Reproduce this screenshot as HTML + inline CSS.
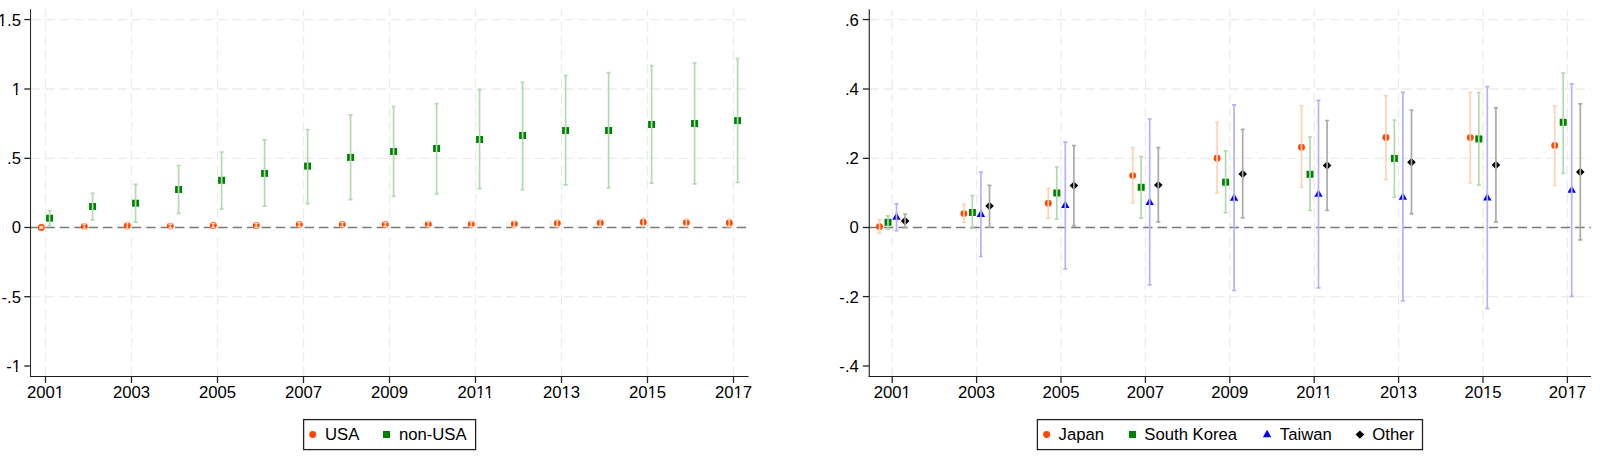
<!DOCTYPE html>
<html><head><meta charset="utf-8"><title>chart</title>
<style>
html,body{margin:0;padding:0;background:#fff;width:1600px;height:459px;overflow:hidden;}
svg{display:block;}
text{font-family:"Liberation Sans", sans-serif;font-size:16.7px;fill:#000;}
</style></head>
<body>
<svg width="1600" height="459" viewBox="0 0 1600 459">
<rect width="1600" height="459" fill="#fff"/>
<line x1="31.0" y1="19.55" x2="748.5" y2="19.55" stroke="#ececec" stroke-width="1.3" stroke-dasharray="9.4 5.0" stroke-dashoffset="0"/>
<line x1="31.0" y1="89.0" x2="748.5" y2="89.0" stroke="#ececec" stroke-width="1.3" stroke-dasharray="9.4 5.0" stroke-dashoffset="0"/>
<line x1="31.0" y1="158.35" x2="748.5" y2="158.35" stroke="#ececec" stroke-width="1.3" stroke-dasharray="9.4 5.0" stroke-dashoffset="0"/>
<line x1="31.0" y1="296.7" x2="748.5" y2="296.7" stroke="#ececec" stroke-width="1.3" stroke-dasharray="9.4 5.0" stroke-dashoffset="0"/>
<line x1="45.5" y1="376.5" x2="45.5" y2="9.2" stroke="#ececec" stroke-width="1.3" stroke-dasharray="9.4 5.0" stroke-dashoffset="0"/>
<line x1="131.5" y1="376.5" x2="131.5" y2="9.2" stroke="#ececec" stroke-width="1.3" stroke-dasharray="9.4 5.0" stroke-dashoffset="0"/>
<line x1="217.5" y1="376.5" x2="217.5" y2="9.2" stroke="#ececec" stroke-width="1.3" stroke-dasharray="9.4 5.0" stroke-dashoffset="0"/>
<line x1="303.5" y1="376.5" x2="303.5" y2="9.2" stroke="#ececec" stroke-width="1.3" stroke-dasharray="9.4 5.0" stroke-dashoffset="0"/>
<line x1="389.5" y1="376.5" x2="389.5" y2="9.2" stroke="#ececec" stroke-width="1.3" stroke-dasharray="9.4 5.0" stroke-dashoffset="0"/>
<line x1="475.5" y1="376.5" x2="475.5" y2="9.2" stroke="#ececec" stroke-width="1.3" stroke-dasharray="9.4 5.0" stroke-dashoffset="0"/>
<line x1="561.5" y1="376.5" x2="561.5" y2="9.2" stroke="#ececec" stroke-width="1.3" stroke-dasharray="9.4 5.0" stroke-dashoffset="0"/>
<line x1="647.5" y1="376.5" x2="647.5" y2="9.2" stroke="#ececec" stroke-width="1.3" stroke-dasharray="9.4 5.0" stroke-dashoffset="0"/>
<line x1="733.5" y1="376.5" x2="733.5" y2="9.2" stroke="#ececec" stroke-width="1.3" stroke-dasharray="9.4 5.0" stroke-dashoffset="0"/>
<line x1="869.55" y1="19.55" x2="1591.0" y2="19.55" stroke="#ececec" stroke-width="1.3" stroke-dasharray="9.4 5.0" stroke-dashoffset="0"/>
<line x1="869.55" y1="89.0" x2="1591.0" y2="89.0" stroke="#ececec" stroke-width="1.3" stroke-dasharray="9.4 5.0" stroke-dashoffset="0"/>
<line x1="869.55" y1="158.35" x2="1591.0" y2="158.35" stroke="#ececec" stroke-width="1.3" stroke-dasharray="9.4 5.0" stroke-dashoffset="0"/>
<line x1="869.55" y1="296.6" x2="1591.0" y2="296.6" stroke="#ececec" stroke-width="1.3" stroke-dasharray="9.4 5.0" stroke-dashoffset="0"/>
<line x1="892.2" y1="376.5" x2="892.2" y2="9.2" stroke="#ececec" stroke-width="1.3" stroke-dasharray="9.4 5.0" stroke-dashoffset="0"/>
<line x1="976.6" y1="376.5" x2="976.6" y2="9.2" stroke="#ececec" stroke-width="1.3" stroke-dasharray="9.4 5.0" stroke-dashoffset="0"/>
<line x1="1061.0" y1="376.5" x2="1061.0" y2="9.2" stroke="#ececec" stroke-width="1.3" stroke-dasharray="9.4 5.0" stroke-dashoffset="0"/>
<line x1="1145.4" y1="376.5" x2="1145.4" y2="9.2" stroke="#ececec" stroke-width="1.3" stroke-dasharray="9.4 5.0" stroke-dashoffset="0"/>
<line x1="1229.8000000000002" y1="376.5" x2="1229.8000000000002" y2="9.2" stroke="#ececec" stroke-width="1.3" stroke-dasharray="9.4 5.0" stroke-dashoffset="0"/>
<line x1="1314.2" y1="376.5" x2="1314.2" y2="9.2" stroke="#ececec" stroke-width="1.3" stroke-dasharray="9.4 5.0" stroke-dashoffset="0"/>
<line x1="1398.6000000000001" y1="376.5" x2="1398.6000000000001" y2="9.2" stroke="#ececec" stroke-width="1.3" stroke-dasharray="9.4 5.0" stroke-dashoffset="0"/>
<line x1="1483.0" y1="376.5" x2="1483.0" y2="9.2" stroke="#ececec" stroke-width="1.3" stroke-dasharray="9.4 5.0" stroke-dashoffset="0"/>
<line x1="1567.4" y1="376.5" x2="1567.4" y2="9.2" stroke="#ececec" stroke-width="1.3" stroke-dasharray="9.4 5.0" stroke-dashoffset="0"/>
<line x1="31.0" y1="227.5" x2="748.5" y2="227.5" stroke="#7a7a7a" stroke-width="1.4" stroke-dasharray="9.4 5.0" stroke-dashoffset="0"/>
<line x1="869.55" y1="227.5" x2="1591.0" y2="227.5" stroke="#7a7a7a" stroke-width="1.4" stroke-dasharray="9.4 5.0" stroke-dashoffset="0"/>
<line x1="30.55" y1="9.2" x2="30.55" y2="377.0" stroke="#222" stroke-width="1.0"/>
<line x1="30.0" y1="376.5" x2="748.5" y2="376.5" stroke="#1c1c1c" stroke-width="1.05"/>
<line x1="869.25" y1="9.2" x2="869.25" y2="377.0" stroke="#111" stroke-width="1.05"/>
<line x1="868.7" y1="376.5" x2="1591.0" y2="376.5" stroke="#1c1c1c" stroke-width="1.05"/>
<line x1="24.3" y1="19.55" x2="30.5" y2="19.55" stroke="#222222" stroke-width="1.3"/>
<text x="21.0" y="26.15" text-anchor="end">1.5</text>
<line x1="24.3" y1="89.0" x2="30.5" y2="89.0" stroke="#222222" stroke-width="1.3"/>
<text x="21.0" y="94.9" text-anchor="end">1</text>
<line x1="24.3" y1="158.35" x2="30.5" y2="158.35" stroke="#222222" stroke-width="1.3"/>
<text x="21.0" y="164.25" text-anchor="end">.5</text>
<line x1="24.3" y1="227.5" x2="30.5" y2="227.5" stroke="#222222" stroke-width="1.3"/>
<text x="21.0" y="233.4" text-anchor="end">0</text>
<line x1="24.3" y1="296.7" x2="30.5" y2="296.7" stroke="#222222" stroke-width="1.3"/>
<text x="21.0" y="302.59999999999997" text-anchor="end">-.5</text>
<line x1="24.3" y1="366.0" x2="30.5" y2="366.0" stroke="#222222" stroke-width="1.3"/>
<text x="21.0" y="371.9" text-anchor="end">-1</text>
<line x1="862.8499999999999" y1="19.55" x2="869.05" y2="19.55" stroke="#222222" stroke-width="1.3"/>
<text x="858.8499999999999" y="26.15" text-anchor="end">.6</text>
<line x1="862.8499999999999" y1="89.0" x2="869.05" y2="89.0" stroke="#222222" stroke-width="1.3"/>
<text x="858.8499999999999" y="94.9" text-anchor="end">.4</text>
<line x1="862.8499999999999" y1="158.35" x2="869.05" y2="158.35" stroke="#222222" stroke-width="1.3"/>
<text x="858.8499999999999" y="164.25" text-anchor="end">.2</text>
<line x1="862.8499999999999" y1="227.5" x2="869.05" y2="227.5" stroke="#222222" stroke-width="1.3"/>
<text x="858.8499999999999" y="233.4" text-anchor="end">0</text>
<line x1="862.8499999999999" y1="296.6" x2="869.05" y2="296.6" stroke="#222222" stroke-width="1.3"/>
<text x="858.8499999999999" y="302.5" text-anchor="end">-.2</text>
<line x1="862.8499999999999" y1="366.0" x2="869.05" y2="366.0" stroke="#222222" stroke-width="1.3"/>
<text x="858.8499999999999" y="371.9" text-anchor="end">-.4</text>
<line x1="45.5" y1="376.5" x2="45.5" y2="383.0" stroke="#222222" stroke-width="1.3"/>
<text x="45.5" y="397.8" text-anchor="middle">2001</text>
<line x1="892.2" y1="376.5" x2="892.2" y2="383.0" stroke="#222222" stroke-width="1.3"/>
<text x="892.2" y="397.8" text-anchor="middle">2001</text>
<line x1="131.5" y1="376.5" x2="131.5" y2="383.0" stroke="#222222" stroke-width="1.3"/>
<text x="131.5" y="397.8" text-anchor="middle">2003</text>
<line x1="976.6" y1="376.5" x2="976.6" y2="383.0" stroke="#222222" stroke-width="1.3"/>
<text x="976.6" y="397.8" text-anchor="middle">2003</text>
<line x1="217.5" y1="376.5" x2="217.5" y2="383.0" stroke="#222222" stroke-width="1.3"/>
<text x="217.5" y="397.8" text-anchor="middle">2005</text>
<line x1="1061.0" y1="376.5" x2="1061.0" y2="383.0" stroke="#222222" stroke-width="1.3"/>
<text x="1061.0" y="397.8" text-anchor="middle">2005</text>
<line x1="303.5" y1="376.5" x2="303.5" y2="383.0" stroke="#222222" stroke-width="1.3"/>
<text x="303.5" y="397.8" text-anchor="middle">2007</text>
<line x1="1145.4" y1="376.5" x2="1145.4" y2="383.0" stroke="#222222" stroke-width="1.3"/>
<text x="1145.4" y="397.8" text-anchor="middle">2007</text>
<line x1="389.5" y1="376.5" x2="389.5" y2="383.0" stroke="#222222" stroke-width="1.3"/>
<text x="389.5" y="397.8" text-anchor="middle">2009</text>
<line x1="1229.8000000000002" y1="376.5" x2="1229.8000000000002" y2="383.0" stroke="#222222" stroke-width="1.3"/>
<text x="1229.8000000000002" y="397.8" text-anchor="middle">2009</text>
<line x1="475.5" y1="376.5" x2="475.5" y2="383.0" stroke="#222222" stroke-width="1.3"/>
<text x="475.5" y="397.8" text-anchor="middle">2011</text>
<line x1="1314.2" y1="376.5" x2="1314.2" y2="383.0" stroke="#222222" stroke-width="1.3"/>
<text x="1314.2" y="397.8" text-anchor="middle">2011</text>
<line x1="561.5" y1="376.5" x2="561.5" y2="383.0" stroke="#222222" stroke-width="1.3"/>
<text x="561.5" y="397.8" text-anchor="middle">2013</text>
<line x1="1398.6000000000001" y1="376.5" x2="1398.6000000000001" y2="383.0" stroke="#222222" stroke-width="1.3"/>
<text x="1398.6000000000001" y="397.8" text-anchor="middle">2013</text>
<line x1="647.5" y1="376.5" x2="647.5" y2="383.0" stroke="#222222" stroke-width="1.3"/>
<text x="647.5" y="397.8" text-anchor="middle">2015</text>
<line x1="1483.0" y1="376.5" x2="1483.0" y2="383.0" stroke="#222222" stroke-width="1.3"/>
<text x="1483.0" y="397.8" text-anchor="middle">2015</text>
<line x1="733.5" y1="376.5" x2="733.5" y2="383.0" stroke="#222222" stroke-width="1.3"/>
<text x="733.5" y="397.8" text-anchor="middle">2017</text>
<line x1="1567.4" y1="376.5" x2="1567.4" y2="383.0" stroke="#222222" stroke-width="1.3"/>
<text x="1567.4" y="397.8" text-anchor="middle">2017</text>
<circle cx="41.30" cy="227.40" r="3.45" fill="#ff4500"/>
<rect x="46.10" y="214.70" width="7" height="7" fill="#008000"/>
<circle cx="84.30" cy="226.40" r="3.45" fill="#ff4500"/>
<rect x="89.10" y="203.00" width="7" height="7" fill="#008000"/>
<circle cx="127.30" cy="225.70" r="3.45" fill="#ff4500"/>
<rect x="132.10" y="199.70" width="7" height="7" fill="#008000"/>
<circle cx="170.30" cy="226.10" r="3.45" fill="#ff4500"/>
<rect x="175.10" y="186.00" width="7" height="7" fill="#008000"/>
<circle cx="213.30" cy="225.40" r="3.45" fill="#ff4500"/>
<rect x="218.10" y="176.80" width="7" height="7" fill="#008000"/>
<circle cx="256.30" cy="225.40" r="3.45" fill="#ff4500"/>
<rect x="261.10" y="169.90" width="7" height="7" fill="#008000"/>
<circle cx="299.30" cy="224.50" r="3.45" fill="#ff4500"/>
<rect x="304.10" y="162.60" width="7" height="7" fill="#008000"/>
<circle cx="342.30" cy="224.50" r="3.45" fill="#ff4500"/>
<rect x="347.10" y="153.90" width="7" height="7" fill="#008000"/>
<circle cx="385.30" cy="224.50" r="3.45" fill="#ff4500"/>
<rect x="390.10" y="148.00" width="7" height="7" fill="#008000"/>
<circle cx="428.30" cy="224.25" r="3.45" fill="#ff4500"/>
<rect x="433.10" y="145.00" width="7" height="7" fill="#008000"/>
<circle cx="471.30" cy="224.25" r="3.45" fill="#ff4500"/>
<rect x="476.10" y="136.00" width="7" height="7" fill="#008000"/>
<circle cx="514.30" cy="224.00" r="3.45" fill="#ff4500"/>
<rect x="519.10" y="132.00" width="7" height="7" fill="#008000"/>
<circle cx="557.30" cy="223.30" r="3.45" fill="#ff4500"/>
<rect x="562.10" y="127.00" width="7" height="7" fill="#008000"/>
<circle cx="600.30" cy="222.90" r="3.45" fill="#ff4500"/>
<rect x="605.10" y="127.00" width="7" height="7" fill="#008000"/>
<circle cx="643.30" cy="222.20" r="3.45" fill="#ff4500"/>
<rect x="648.10" y="121.00" width="7" height="7" fill="#008000"/>
<circle cx="686.30" cy="222.60" r="3.45" fill="#ff4500"/>
<rect x="691.10" y="120.00" width="7" height="7" fill="#008000"/>
<circle cx="729.30" cy="222.90" r="3.45" fill="#ff4500"/>
<rect x="734.10" y="117.10" width="7" height="7" fill="#008000"/>
<path d="M41.30 226.70V228.10M39.30 226.70H43.30M39.30 228.10H43.30" stroke="#ffd3b2" stroke-width="1.7" fill="none"/>
<path d="M49.60 210.90V225.50M47.60 210.90H51.60M47.60 225.50H51.60" stroke="#b2d9b2" stroke-width="1.7" fill="none"/>
<path d="M84.30 224.00V228.80M82.30 224.00H86.30M82.30 228.80H86.30" stroke="#ffd3b2" stroke-width="1.7" fill="none"/>
<path d="M92.60 193.40V219.90M90.60 193.40H94.60M90.60 219.90H94.60" stroke="#b2d9b2" stroke-width="1.7" fill="none"/>
<path d="M127.30 222.30V229.10M125.30 222.30H129.30M125.30 229.10H129.30" stroke="#ffd3b2" stroke-width="1.7" fill="none"/>
<path d="M135.60 184.40V222.10M133.60 184.40H137.60M133.60 222.10H137.60" stroke="#b2d9b2" stroke-width="1.7" fill="none"/>
<path d="M170.30 224.10V228.10M168.30 224.10H172.30M168.30 228.10H172.30" stroke="#ffd3b2" stroke-width="1.7" fill="none"/>
<path d="M178.60 165.50V213.40M176.60 165.50H180.60M176.60 213.40H180.60" stroke="#b2d9b2" stroke-width="1.7" fill="none"/>
<path d="M213.30 223.50V227.30M211.30 223.50H215.30M211.30 227.30H215.30" stroke="#ffd3b2" stroke-width="1.7" fill="none"/>
<path d="M221.60 152.10V209.10M219.60 152.10H223.60M219.60 209.10H223.60" stroke="#b2d9b2" stroke-width="1.7" fill="none"/>
<path d="M256.30 223.40V227.40M254.30 223.40H258.30M254.30 227.40H258.30" stroke="#ffd3b2" stroke-width="1.7" fill="none"/>
<path d="M264.60 139.90V206.10M262.60 139.90H266.60M262.60 206.10H266.60" stroke="#b2d9b2" stroke-width="1.7" fill="none"/>
<path d="M299.30 222.30V226.70M297.30 222.30H301.30M297.30 226.70H301.30" stroke="#ffd3b2" stroke-width="1.7" fill="none"/>
<path d="M307.60 129.50V203.70M305.60 129.50H309.60M305.60 203.70H309.60" stroke="#b2d9b2" stroke-width="1.7" fill="none"/>
<path d="M342.30 222.30V226.70M340.30 222.30H344.30M340.30 226.70H344.30" stroke="#ffd3b2" stroke-width="1.7" fill="none"/>
<path d="M350.60 114.90V199.60M348.60 114.90H352.60M348.60 199.60H352.60" stroke="#b2d9b2" stroke-width="1.7" fill="none"/>
<path d="M385.30 222.30V226.70M383.30 222.30H387.30M383.30 226.70H387.30" stroke="#ffd3b2" stroke-width="1.7" fill="none"/>
<path d="M393.60 106.50V196.30M391.60 106.50H395.60M391.60 196.30H395.60" stroke="#b2d9b2" stroke-width="1.7" fill="none"/>
<path d="M428.30 221.75V226.75M426.30 221.75H430.30M426.30 226.75H430.30" stroke="#ffd3b2" stroke-width="1.7" fill="none"/>
<path d="M436.60 103.60V194.00M434.60 103.60H438.60M434.60 194.00H438.60" stroke="#b2d9b2" stroke-width="1.7" fill="none"/>
<path d="M471.30 221.65V226.85M469.30 221.65H473.30M469.30 226.85H473.30" stroke="#ffd3b2" stroke-width="1.7" fill="none"/>
<path d="M479.60 89.60V188.70M477.60 89.60H481.60M477.60 188.70H481.60" stroke="#b2d9b2" stroke-width="1.7" fill="none"/>
<path d="M514.30 220.90V227.10M512.30 220.90H516.30M512.30 227.10H516.30" stroke="#ffd3b2" stroke-width="1.7" fill="none"/>
<path d="M522.60 82.00V190.00M520.60 82.00H524.60M520.60 190.00H524.60" stroke="#b2d9b2" stroke-width="1.7" fill="none"/>
<path d="M557.30 219.90V226.70M555.30 219.90H559.30M555.30 226.70H559.30" stroke="#ffd3b2" stroke-width="1.7" fill="none"/>
<path d="M565.60 75.50V184.80M563.60 75.50H567.60M563.60 184.80H567.60" stroke="#b2d9b2" stroke-width="1.7" fill="none"/>
<path d="M600.30 219.40V226.40M598.30 219.40H602.30M598.30 226.40H602.30" stroke="#ffd3b2" stroke-width="1.7" fill="none"/>
<path d="M608.60 72.70V188.00M606.60 72.70H610.60M606.60 188.00H610.60" stroke="#b2d9b2" stroke-width="1.7" fill="none"/>
<path d="M643.30 218.00V226.40M641.30 218.00H645.30M641.30 226.40H645.30" stroke="#ffd3b2" stroke-width="1.7" fill="none"/>
<path d="M651.60 65.70V183.20M649.60 65.70H653.60M649.60 183.20H653.60" stroke="#b2d9b2" stroke-width="1.7" fill="none"/>
<path d="M686.30 218.80V226.40M684.30 218.80H688.30M684.30 226.40H688.30" stroke="#ffd3b2" stroke-width="1.7" fill="none"/>
<path d="M694.60 63.00V183.90M692.60 63.00H696.60M692.60 183.90H696.60" stroke="#b2d9b2" stroke-width="1.7" fill="none"/>
<path d="M729.30 219.20V226.60M727.30 219.20H731.30M727.30 226.60H731.30" stroke="#ffd3b2" stroke-width="1.7" fill="none"/>
<path d="M737.60 58.50V182.50M735.60 58.50H739.60M735.60 182.50H739.60" stroke="#b2d9b2" stroke-width="1.7" fill="none"/>
<circle cx="879.50" cy="226.60" r="3.45" fill="#ff4500"/>
<rect x="884.50" y="218.80" width="7" height="7" fill="#008000"/>
<polygon points="892.30,219.70 900.70,219.70 896.50,212.30" fill="#0000ff"/>
<polygon points="900.80,221.00 905.10,216.80 909.40,221.00 905.10,225.20" fill="#000000"/>
<circle cx="963.90" cy="213.60" r="3.45" fill="#ff4500"/>
<rect x="968.90" y="209.00" width="7" height="7" fill="#008000"/>
<polygon points="976.70,216.90 985.10,216.90 980.90,209.50" fill="#0000ff"/>
<polygon points="985.20,206.00 989.50,201.80 993.80,206.00 989.50,210.20" fill="#000000"/>
<circle cx="1048.30" cy="203.30" r="3.45" fill="#ff4500"/>
<rect x="1053.30" y="189.50" width="7" height="7" fill="#008000"/>
<polygon points="1061.10,207.90 1069.50,207.90 1065.30,200.50" fill="#0000ff"/>
<polygon points="1069.60,185.60 1073.90,181.40 1078.20,185.60 1073.90,189.80" fill="#000000"/>
<circle cx="1132.70" cy="175.60" r="3.45" fill="#ff4500"/>
<rect x="1137.70" y="183.80" width="7" height="7" fill="#008000"/>
<polygon points="1145.50,205.00 1153.90,205.00 1149.70,197.60" fill="#0000ff"/>
<polygon points="1154.00,185.10 1158.30,180.90 1162.60,185.10 1158.30,189.30" fill="#000000"/>
<circle cx="1217.10" cy="158.20" r="3.45" fill="#ff4500"/>
<rect x="1222.10" y="178.70" width="7" height="7" fill="#008000"/>
<polygon points="1229.90,200.70 1238.30,200.70 1234.10,193.30" fill="#0000ff"/>
<polygon points="1238.40,174.00 1242.70,169.80 1247.00,174.00 1242.70,178.20" fill="#000000"/>
<circle cx="1301.50" cy="147.20" r="3.45" fill="#ff4500"/>
<rect x="1306.50" y="170.80" width="7" height="7" fill="#008000"/>
<polygon points="1314.30,196.80 1322.70,196.80 1318.50,189.40" fill="#0000ff"/>
<polygon points="1322.80,165.50 1327.10,161.30 1331.40,165.50 1327.10,169.70" fill="#000000"/>
<circle cx="1385.90" cy="137.50" r="3.45" fill="#ff4500"/>
<rect x="1390.90" y="154.90" width="7" height="7" fill="#008000"/>
<polygon points="1398.70,199.80 1407.10,199.80 1402.90,192.40" fill="#0000ff"/>
<polygon points="1407.20,162.30 1411.50,158.10 1415.80,162.30 1411.50,166.50" fill="#000000"/>
<circle cx="1470.30" cy="137.60" r="3.45" fill="#ff4500"/>
<rect x="1475.30" y="135.40" width="7" height="7" fill="#008000"/>
<polygon points="1483.10,200.50 1491.50,200.50 1487.30,193.10" fill="#0000ff"/>
<polygon points="1491.60,165.00 1495.90,160.80 1500.20,165.00 1495.90,169.20" fill="#000000"/>
<circle cx="1554.70" cy="145.40" r="3.45" fill="#ff4500"/>
<rect x="1559.70" y="118.80" width="7" height="7" fill="#008000"/>
<polygon points="1567.50,192.80 1575.90,192.80 1571.70,185.40" fill="#0000ff"/>
<polygon points="1576.00,172.00 1580.30,167.80 1584.60,172.00 1580.30,176.20" fill="#000000"/>
<path d="M879.50 219.70V233.20M877.50 219.70H881.50M877.50 233.20H881.50" stroke="#ffd3b2" stroke-width="1.7" fill="none"/>
<path d="M888.00 215.80V229.30M886.00 215.80H890.00M886.00 229.30H890.00" stroke="#b2d9b2" stroke-width="1.7" fill="none"/>
<path d="M896.50 203.80V230.60M894.50 203.80H898.50M894.50 230.60H898.50" stroke="#b2b2ff" stroke-width="1.7" fill="none"/>
<path d="M905.10 214.00V227.70M903.10 214.00H907.10M903.10 227.70H907.10" stroke="#aaaaaa" stroke-width="1.7" fill="none"/>
<path d="M963.90 204.40V222.30M961.90 204.40H965.90M961.90 222.30H965.90" stroke="#ffd3b2" stroke-width="1.7" fill="none"/>
<path d="M972.40 195.70V228.40M970.40 195.70H974.40M970.40 228.40H974.40" stroke="#b2d9b2" stroke-width="1.7" fill="none"/>
<path d="M980.90 172.20V256.50M978.90 172.20H982.90M978.90 256.50H982.90" stroke="#b2b2ff" stroke-width="1.7" fill="none"/>
<path d="M989.50 185.30V227.10M987.50 185.30H991.50M987.50 227.10H991.50" stroke="#aaaaaa" stroke-width="1.7" fill="none"/>
<path d="M1048.30 188.50V218.10M1046.30 188.50H1050.30M1046.30 218.10H1050.30" stroke="#ffd3b2" stroke-width="1.7" fill="none"/>
<path d="M1056.80 167.00V218.90M1054.80 167.00H1058.80M1054.80 218.90H1058.80" stroke="#b2d9b2" stroke-width="1.7" fill="none"/>
<path d="M1065.30 142.20V268.90M1063.30 142.20H1067.30M1063.30 268.90H1067.30" stroke="#b2b2ff" stroke-width="1.7" fill="none"/>
<path d="M1073.90 145.60V225.60M1071.90 145.60H1075.90M1071.90 225.60H1075.90" stroke="#aaaaaa" stroke-width="1.7" fill="none"/>
<path d="M1132.70 147.50V203.00M1130.70 147.50H1134.70M1130.70 203.00H1134.70" stroke="#ffd3b2" stroke-width="1.7" fill="none"/>
<path d="M1141.20 156.60V218.10M1139.20 156.60H1143.20M1139.20 218.10H1143.20" stroke="#b2d9b2" stroke-width="1.7" fill="none"/>
<path d="M1149.70 119.00V284.80M1147.70 119.00H1151.70M1147.70 284.80H1151.70" stroke="#b2b2ff" stroke-width="1.7" fill="none"/>
<path d="M1158.30 147.60V221.90M1156.30 147.60H1160.30M1156.30 221.90H1160.30" stroke="#aaaaaa" stroke-width="1.7" fill="none"/>
<path d="M1217.10 122.40V192.80M1215.10 122.40H1219.10M1215.10 192.80H1219.10" stroke="#ffd3b2" stroke-width="1.7" fill="none"/>
<path d="M1225.60 150.80V212.70M1223.60 150.80H1227.60M1223.60 212.70H1227.60" stroke="#b2d9b2" stroke-width="1.7" fill="none"/>
<path d="M1234.10 104.80V290.50M1232.10 104.80H1236.10M1232.10 290.50H1236.10" stroke="#b2b2ff" stroke-width="1.7" fill="none"/>
<path d="M1242.70 129.40V218.00M1240.70 129.40H1244.70M1240.70 218.00H1244.70" stroke="#aaaaaa" stroke-width="1.7" fill="none"/>
<path d="M1301.50 106.10V187.40M1299.50 106.10H1303.50M1299.50 187.40H1303.50" stroke="#ffd3b2" stroke-width="1.7" fill="none"/>
<path d="M1310.00 137.00V210.50M1308.00 137.00H1312.00M1308.00 210.50H1312.00" stroke="#b2d9b2" stroke-width="1.7" fill="none"/>
<path d="M1318.50 100.40V287.90M1316.50 100.40H1320.50M1316.50 287.90H1320.50" stroke="#b2b2ff" stroke-width="1.7" fill="none"/>
<path d="M1327.10 120.50V210.50M1325.10 120.50H1329.10M1325.10 210.50H1329.10" stroke="#aaaaaa" stroke-width="1.7" fill="none"/>
<path d="M1385.90 95.70V179.50M1383.90 95.70H1387.90M1383.90 179.50H1387.90" stroke="#ffd3b2" stroke-width="1.7" fill="none"/>
<path d="M1394.40 120.00V197.10M1392.40 120.00H1396.40M1392.40 197.10H1396.40" stroke="#b2d9b2" stroke-width="1.7" fill="none"/>
<path d="M1402.90 92.30V300.90M1400.90 92.30H1404.90M1400.90 300.90H1404.90" stroke="#b2b2ff" stroke-width="1.7" fill="none"/>
<path d="M1411.50 110.00V213.80M1409.50 110.00H1413.50M1409.50 213.80H1413.50" stroke="#aaaaaa" stroke-width="1.7" fill="none"/>
<path d="M1470.30 92.50V183.00M1468.30 92.50H1472.30M1468.30 183.00H1472.30" stroke="#ffd3b2" stroke-width="1.7" fill="none"/>
<path d="M1478.80 92.50V184.90M1476.80 92.50H1480.80M1476.80 184.90H1480.80" stroke="#b2d9b2" stroke-width="1.7" fill="none"/>
<path d="M1487.30 86.60V308.50M1485.30 86.60H1489.30M1485.30 308.50H1489.30" stroke="#b2b2ff" stroke-width="1.7" fill="none"/>
<path d="M1495.90 107.80V222.10M1493.90 107.80H1497.90M1493.90 222.10H1497.90" stroke="#aaaaaa" stroke-width="1.7" fill="none"/>
<path d="M1554.70 105.80V185.50M1552.70 105.80H1556.70M1552.70 185.50H1556.70" stroke="#ffd3b2" stroke-width="1.7" fill="none"/>
<path d="M1563.20 73.00V173.30M1561.20 73.00H1565.20M1561.20 173.30H1565.20" stroke="#b2d9b2" stroke-width="1.7" fill="none"/>
<path d="M1571.70 83.80V296.30M1569.70 83.80H1573.70M1569.70 296.30H1573.70" stroke="#b2b2ff" stroke-width="1.7" fill="none"/>
<path d="M1580.30 103.90V239.90M1578.30 103.90H1582.30M1578.30 239.90H1582.30" stroke="#aaaaaa" stroke-width="1.7" fill="none"/>
<rect x="303.6" y="419.6" width="172.0" height="30.0" fill="none" stroke="#222222" stroke-width="1.3"/>
<circle cx="312.70" cy="434.50" r="3.45" fill="#ff4500"/>
<text x="325.0" y="440.3" text-anchor="start">USA</text>
<rect x="383.00" y="431.00" width="7" height="7" fill="#008000"/>
<text x="398.9" y="440.3" text-anchor="start">non-USA</text>
<rect x="1037.4" y="419.6" width="385.0999999999999" height="30.0" fill="none" stroke="#222222" stroke-width="1.3"/>
<circle cx="1046.60" cy="434.50" r="3.45" fill="#ff4500"/>
<text x="1058.6" y="440.3" text-anchor="start">Japan</text>
<rect x="1129.00" y="431.00" width="7" height="7" fill="#008000"/>
<text x="1144.3" y="440.3" text-anchor="start">South Korea</text>
<polygon points="1262.90,437.20 1271.30,437.20 1267.10,429.80" fill="#0000ff"/>
<text x="1279.8" y="440.3" text-anchor="start">Taiwan</text>
<polygon points="1355.60,434.60 1359.90,430.40 1364.20,434.60 1359.90,438.80" fill="#000000"/>
<text x="1372.3" y="440.3" text-anchor="start">Other</text>
<rect x="-1.73" y="23.46" width="3.65" height="3.42" fill="#fff"/>
<rect x="3.52" y="23.46" width="3.64" height="3.42" fill="#fff"/>
<rect x="12.20" y="92.21" width="3.65" height="3.42" fill="#fff"/>
<rect x="17.44" y="92.21" width="3.64" height="3.42" fill="#fff"/>
<rect x="12.20" y="369.21" width="3.65" height="3.42" fill="#fff"/>
<rect x="17.44" y="369.21" width="3.64" height="3.42" fill="#fff"/>
<rect x="55.28" y="395.11" width="3.65" height="3.42" fill="#fff"/>
<rect x="60.52" y="395.11" width="3.64" height="3.42" fill="#fff"/>
<rect x="901.98" y="395.11" width="3.65" height="3.42" fill="#fff"/>
<rect x="907.22" y="395.11" width="3.64" height="3.42" fill="#fff"/>
<rect x="475.99" y="395.11" width="3.65" height="3.42" fill="#fff"/>
<rect x="481.23" y="395.11" width="3.64" height="3.42" fill="#fff"/>
<rect x="485.28" y="395.11" width="3.65" height="3.42" fill="#fff"/>
<rect x="490.52" y="395.11" width="3.64" height="3.42" fill="#fff"/>
<rect x="1314.69" y="395.11" width="3.65" height="3.42" fill="#fff"/>
<rect x="1319.93" y="395.11" width="3.64" height="3.42" fill="#fff"/>
<rect x="1323.98" y="395.11" width="3.65" height="3.42" fill="#fff"/>
<rect x="1329.22" y="395.11" width="3.64" height="3.42" fill="#fff"/>
<rect x="561.99" y="395.11" width="3.65" height="3.42" fill="#fff"/>
<rect x="567.23" y="395.11" width="3.64" height="3.42" fill="#fff"/>
<rect x="1399.09" y="395.11" width="3.65" height="3.42" fill="#fff"/>
<rect x="1404.33" y="395.11" width="3.64" height="3.42" fill="#fff"/>
<rect x="647.99" y="395.11" width="3.65" height="3.42" fill="#fff"/>
<rect x="653.23" y="395.11" width="3.64" height="3.42" fill="#fff"/>
<rect x="1483.49" y="395.11" width="3.65" height="3.42" fill="#fff"/>
<rect x="1488.73" y="395.11" width="3.64" height="3.42" fill="#fff"/>
<rect x="733.99" y="395.11" width="3.65" height="3.42" fill="#fff"/>
<rect x="739.23" y="395.11" width="3.64" height="3.42" fill="#fff"/>
<rect x="1567.89" y="395.11" width="3.65" height="3.42" fill="#fff"/>
<rect x="1573.13" y="395.11" width="3.64" height="3.42" fill="#fff"/>
</svg>
</body></html>
